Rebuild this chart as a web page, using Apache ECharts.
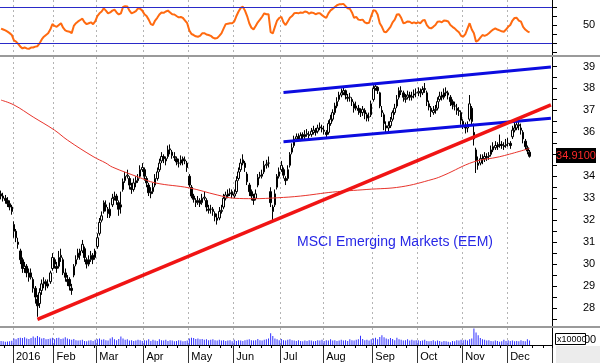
<!DOCTYPE html>
<html><head><meta charset="utf-8">
<script src="https://cdn.jsdelivr.net/npm/echarts@6/dist/echarts.min.js"></script>
<style>html,body{margin:0;padding:0;background:#fff}#c{width:600px;height:363px}</style>
</head><body><div id="c"></div>
<script>
// ---------- DATA ----------
const holidays = ['2015-12-25','2016-01-01','2016-01-18','2016-02-15','2016-03-25','2016-05-30','2016-07-04','2016-09-05','2016-11-24','2016-12-26'];
const monthLabels = ['2016','Feb','Mar','Apr','May','Jun','Jul','Aug','Sep','Oct','Nov','Dec'];
const firstDay = '2015-12-23', lastDay = '2016-12-30';

const priceOpen = [
33.2,33.1,33.0,32.9,32.75,32.6,31.8,31.5,31.0,30.6,
30.2,29.8,29.9,29.6,29.4,29.3,28.9,28.4,28.2,28.8,
29.1,29.2,29.0,29.2,29.8,30.2,29.9,29.9,30.3,30.2,
29.6,29.3,29.3,28.9,29.5,30.0,30.3,30.6,30.6,30.7,
30.2,30.0,30.2,30.4,30.3,30.8,31.4,32.0,32.4,32.7,
32.5,32.2,32.7,33.0,33.1,32.8,32.6,33.4,33.8,34.0,
33.9,33.5,33.4,33.7,33.8,34.0,34.3,34.3,33.9,33.6,
33.2,33.3,33.6,33.9,34.3,34.7,34.9,34.8,34.9,35.2,
35.1,34.9,34.8,34.6,34.6,34.8,34.7,34.6,34.0,33.5,
33.1,32.9,32.8,32.9,32.8,33.0,32.9,32.5,32.5,32.5,
32.3,32.1,32.1,32.4,32.6,33.0,33.1,33.2,33.3,33.1,
33.3,33.9,34.3,34.6,34.6,34.1,33.6,33.3,33.0,33.0,
33.6,34.0,34.0,34.2,34.5,34.6,33.3,32.6,32.7,33.5,
34.0,34.3,34.3,33.9,33.9,34.5,35.1,35.4,35.7,35.8,
35.7,35.9,35.8,35.9,35.9,35.9,36.0,36.1,36.05,36.2,
36.2,36.1,36.0,36.0,36.4,36.6,36.9,37.2,37.5,37.7,
37.8,37.9,37.6,37.6,37.5,37.3,37.1,37.1,37.0,36.9,
37.0,36.8,36.7,36.8,37.5,38.0,38.05,37.8,37.0,36.8,
36.3,36.2,36.3,36.6,36.9,37.2,37.6,37.9,37.8,37.5,
37.6,37.7,37.6,37.7,37.8,37.8,37.85,37.8,37.95,37.8,
37.3,37.1,36.9,37.0,37.1,37.5,37.7,37.6,37.8,37.8,
37.6,37.4,37.2,37.1,37.0,36.9,36.5,36.3,36.2,36.6,
37.1,36.0,35.2,34.6,34.6,34.8,34.8,34.9,34.9,35.0,
35.2,35.3,35.4,35.4,35.45,35.4,35.4,35.5,35.5,35.8,
36.1,36.2,36.35,36.2,36.0,35.6,35.3,35.1
];
const priceHigh = [
33.35,33.25,33.15,33.05,32.9,32.7,31.95,31.6,31.2,30.7,
30.3,30.1,30.0,29.8,29.8,29.4,29.0,28.6,28.9,29.3,
29.4,29.3,29.3,29.7,30.5,30.3,30.1,30.6,30.7,30.3,
29.8,29.5,29.4,29.1,30.0,30.4,30.7,30.7,31.1,30.8,
30.3,30.4,30.6,30.5,30.7,31.4,32.1,32.4,32.9,32.9,
32.6,32.8,33.2,33.3,33.2,32.9,33.3,33.9,34.2,34.3,
34.0,33.7,33.9,34.0,34.1,34.5,34.6,34.4,34.0,33.7,
33.5,33.7,34.1,34.4,34.8,35.1,35.0,34.9,35.4,35.45,
35.2,35.1,34.9,34.8,34.95,34.9,34.9,34.7,34.1,33.6,
33.2,33.0,33.1,33.0,33.2,33.3,33.0,32.7,32.7,32.6,
32.4,32.3,32.6,32.7,33.2,33.3,33.4,33.45,33.4,33.4,
34.0,34.4,34.8,35.0,34.7,34.2,33.7,33.4,33.2,33.4,
34.1,34.2,34.3,34.7,34.75,34.9,33.5,32.7,33.4,34.1,
34.4,34.7,34.4,34.0,34.5,35.1,35.5,35.85,35.95,35.95,
36.0,36.0,36.1,36.15,36.05,36.2,36.3,36.2,36.35,36.45,
36.35,36.3,36.1,36.55,36.8,37.05,37.35,37.6,37.85,38.0,
38.05,37.95,37.75,37.8,37.6,37.4,37.4,37.25,37.1,37.2,
37.1,36.9,36.9,37.45,38.15,38.25,38.1,37.85,37.2,36.9,
36.5,36.5,36.7,37.0,37.3,37.7,38.05,38.1,37.9,37.75,
37.9,37.85,37.85,37.95,38.0,38.05,38.0,38.1,38.25,37.9,
37.45,37.2,37.2,37.25,37.6,37.85,37.85,38.0,38.05,37.9,
37.7,37.5,37.4,37.3,37.15,37.0,36.6,36.45,36.5,37.7,
37.2,36.4,35.3,34.9,35.0,35.0,35.1,35.05,35.1,35.4,
35.55,35.6,35.55,35.9,35.6,35.55,35.7,35.75,35.6,36.3,
36.45,36.55,36.5,36.4,36.1,35.7,35.4,35.2
];
const priceLow = [
32.95,32.85,32.75,32.6,32.45,32.25,31.2,31.0,30.7,30.0,
29.6,29.6,29.4,29.2,29.3,28.7,28.2,27.6,28.0,28.6,
28.9,28.8,28.9,29.1,29.7,29.8,29.6,29.8,30.1,29.5,
29.2,29.0,28.8,28.6,29.4,29.9,30.2,30.2,30.5,30.1,
29.8,29.9,30.1,30.0,30.2,30.7,31.3,31.9,32.3,32.4,
32.1,32.1,32.6,32.9,32.7,32.2,32.3,33.3,33.7,33.9,
33.4,33.2,33.3,33.5,33.7,33.9,34.2,33.8,33.5,33.1,
33.0,33.2,33.5,33.8,34.2,34.6,34.6,34.5,34.8,35.0,
34.8,34.7,34.5,34.4,34.5,34.5,34.55,34.2,33.5,33.0,
32.8,32.6,32.7,32.6,32.7,32.9,32.4,32.3,32.3,32.2,
31.95,31.8,32.0,32.3,32.5,32.9,33.0,33.1,33.0,33.0,
33.2,33.8,34.2,34.5,34.2,33.6,33.1,32.9,32.7,32.9,
33.5,33.9,33.9,34.1,34.35,34.4,32.6,31.9,32.6,33.4,
33.9,34.2,33.9,33.6,33.8,34.4,35.0,35.3,35.6,35.6,
35.6,35.65,35.7,35.8,35.7,35.8,35.9,35.85,35.95,36.1,
36.0,35.9,35.7,35.9,36.3,36.5,36.8,37.1,37.4,37.6,
37.7,37.5,37.4,37.4,37.2,36.9,37.0,36.8,36.7,36.75,
36.6,36.5,36.5,36.7,37.4,37.9,37.75,37.1,36.7,36.1,
36.0,36.05,36.2,36.5,36.8,37.1,37.5,37.7,37.4,37.35,
37.5,37.45,37.45,37.55,37.6,37.65,37.6,37.7,37.8,37.2,
37.0,36.7,36.8,36.85,37.0,37.4,37.45,37.5,37.65,37.5,
37.2,37.05,37.0,36.8,36.75,36.35,36.15,35.95,36.0,36.5,
36.3,35.4,34.15,34.3,34.5,34.55,34.65,34.7,34.75,34.9,
35.1,35.2,35.2,35.3,35.25,35.2,35.3,35.35,35.25,35.7,
36.0,36.1,36.1,35.9,35.5,35.2,35.0,34.85
];
const priceClose = [
33.1,33.0,32.9,32.75,32.6,32.4,31.5,31.2,30.9,30.2,
29.8,29.9,29.6,29.4,29.6,28.9,28.5,28.1,28.7,29.1,
29.2,29.0,29.1,29.6,30.3,30.0,29.8,30.3,30.4,29.6,
29.4,29.2,29.0,28.8,29.9,30.2,30.5,30.4,30.9,30.3,
30.0,30.2,30.4,30.2,30.6,31.2,31.9,32.2,32.8,32.6,
32.3,32.5,33.0,33.05,32.9,32.5,32.7,33.75,34.0,34.05,
33.6,33.4,33.7,33.8,33.9,34.3,34.4,34.0,33.7,33.25,
33.3,33.5,33.9,34.2,34.6,34.9,34.8,34.7,35.2,35.25,
34.95,34.85,34.65,34.6,34.75,34.7,34.75,34.4,33.6,33.1,
32.95,32.8,32.9,32.75,33.0,33.05,32.6,32.45,32.5,32.4,
32.15,32.0,32.4,32.45,33.0,33.15,33.2,33.25,33.15,33.2,
33.8,34.2,34.6,34.75,34.4,33.75,33.3,33.1,32.9,33.2,
33.95,34.05,34.1,34.5,34.55,34.6,32.8,32.4,33.2,34.0,
34.2,34.5,34.05,33.8,34.3,35.0,35.3,35.7,35.8,35.75,
35.85,35.8,35.9,35.95,35.85,36.05,36.1,36.0,36.2,36.25,
36.15,36.05,35.9,36.4,36.6,36.9,37.2,37.4,37.7,37.8,
37.9,37.7,37.55,37.6,37.4,37.1,37.2,37.0,36.9,37.05,
36.85,36.65,36.7,37.3,38.0,38.1,37.9,37.2,36.9,36.4,
36.2,36.3,36.5,36.9,37.1,37.5,37.9,37.85,37.6,37.55,
37.7,37.6,37.65,37.75,37.8,37.85,37.8,37.95,38.0,37.4,
37.15,36.95,37.0,37.05,37.4,37.65,37.6,37.8,37.85,37.7,
37.4,37.25,37.2,37.0,36.95,36.55,36.35,36.2,36.3,37.3,
36.5,35.7,34.7,34.5,34.8,34.75,34.9,34.85,34.95,35.2,
35.35,35.4,35.35,35.45,35.4,35.35,35.45,35.5,35.4,36.1,
36.2,36.35,36.3,36.1,35.7,35.35,35.15,34.91
];
const rsi = [
46,45,44,42.6,41,39,33,31.5,29,26,
24,25,24,23.5,25,25,26,26.5,29.6,34,
37,39,40.8,45,51,49,48,50,52,47,
44,43,42.6,41,49,52,54,55.6,57,53,
51,52,53,51,54,60,63,65,68.5,66,
63,64,66,67,64,61.7,63,70,71,70.5,
66,63,64,65.5,68.5,68,66,62,60,56,
51,50,55,58,61.7,64,63.5,65,66,64,
62,61.7,60,58.5,59,57.8,55,52,44,40,
38.9,37.5,37,38,40.8,41,39.5,38.9,38,36,
35,35.5,38,40.8,46,51,51.5,52,52,54,
60,65,69,70.4,66,60,52,47,45.2,48.9,
53,56,59.2,63,62,62,42,40.8,48,55,
57.8,59.2,53,50,54,58,60,63,63.5,63,
64,63.5,65,64.5,62.6,64,63.5,62,63,63,
61,59.2,58,63,66.3,68,70,72,73,73,
73.5,71,68.5,68,64,58,59,56,55.6,56,
53,52,52.5,60,66.3,66,61.7,52,48,42.6,
42,45,48,53,56,61.7,62,58,52,52.5,
54,53.7,52,53,52,53,52,55,55.6,50,
47,46.3,48,50,53.7,54,53,55,54.8,54,
50,48,46.3,44,42,38,37,40,46,52,
45,40.8,31.5,33,36,38.9,38,39,40.8,43,
45,46.3,45,44,43,42.6,45,48,50,55,
57.8,58,55,53.7,48,45,43,41.9
];
const volume = [
5000,4500,4000,4200,4600,5200,
8000,7000,8500,9000,8800,9500,8000,7500,8500,10500,9000,11000,9500,8000,8500,7000,7500,8000,9000,
7000,8500,9000,7500,8000,9500,8000,7000,6500,7500,6000,5500,6000,6500,5000,4500,5500,6000,5000,6500,
7000,8000,6500,7000,6000,5500,8000,9500,7000,6000,7500,10500,8000,6500,7000,5500,6000,5000,5500,6500,6000,5000,
6000,5500,7000,5000,6500,5500,5000,7000,6000,5500,6500,5000,6000,5500,4500,5000,6000,5500,4500,5000,5500,
8000,9000,8500,7500,8000,7000,7500,6500,7000,6000,6500,7000,6000,5500,6500,5500,6000,5000,5500,6000,4500,
6500,5000,6000,5500,5000,6000,6500,7000,6000,5500,6000,7500,6000,5500,6500,7000,8000,14500,11000,8000,7000,6000,
7500,6000,5500,6500,7000,6000,5500,5000,6000,5000,4500,5500,5000,6000,5500,4500,5000,6000,5500,6500,
5000,6000,5500,7000,5500,6000,5000,5500,6500,5500,6000,5000,7000,6000,5500,6500,7000,11500,7500,6000,6500,5500,7000,
8000,9000,7000,10000,12000,9500,8000,7000,8500,7500,6000,9000,7000,6500,5500,6000,7000,5500,6500,5500,6000,
6000,5000,5500,6500,5000,4500,5000,6000,4500,5500,5000,4000,5000,4500,4000,3500,5000,4500,6000,5500,6500,
6000,6500,5500,7000,8000,20500,15500,12000,8500,7000,6500,5500,6000,5000,4500,5500,5000,4000,4500,6500,5000,
6000,5000,5500,4500,5000,4500,6000,5000,4500,7000,5500
];
// 200-day moving average read at points: [trading-day index, value]
const movingAvg = [[0,37.47],[6,37.25],[15,36.7],[25,36.1],[31,35.65],[43,34.9],[49,34.6],[52,34.42],[64,33.97],[72,33.7],[88,33.47],[101,33.15],[109,33.0],[118,32.98],[129,33.02],[140,33.1],[155,33.28],[171,33.4],[187,33.52],[202,33.87],[207,34.05],[221,34.66],[233,34.89],[247,35.27]];
const trendSupport = [[17,27.48],[257,37.25]];
const channelUpper = [[132,37.82],[257,38.98]];
const channelLower = [[132,35.57],[257,36.64]];
const priceTicks = [28,29,30,31,32,33,34,35,36,37,38,39];
const priceMinorTicks = [27.5,28,28.5,29,29.5,30,30.5,31,31.5,32,32.5,33,33.5,34,34.5,35,35.5,36,36.5,37,37.5,38,38.5,39];
const rsiLevels = [70,30];
const rsiTicks = [20,30,40,50,60,70];
const rsiLabels = [50];
const lastPrice = 34.91;
const chartTitle = 'MSCI Emerging Markets (EEM)';

// ---------- categories (trading days) ----------
const categories = [];
{
  let t = Date.parse(firstDay + 'T00:00:00Z');
  const end = Date.parse(lastDay + 'T00:00:00Z');
  while (t <= end) {
    const d = new Date(t);
    const s = d.toISOString().slice(0, 10);
    const w = d.getUTCDay();
    if (w !== 0 && w !== 6 && holidays.indexOf(s) < 0) categories.push(s);
    t += 86400000;
  }
}
const monthStart = (i) => i > 0 && categories[i].slice(5, 7) !== categories[i - 1].slice(5, 7);
const weekStart = (i) => i > 0 && new Date(categories[i] + 'T00:00:00Z').getUTCDay() < new Date(categories[i - 1] + 'T00:00:00Z').getUTCDay();

const FONT = 'Liberation Sans, Arial, sans-serif';
const gridL = -1, gridR = 48;
const gridLine = { show: true, interval: (i) => monthStart(i), lineStyle: { color: '#b4b4b4', width: 1, type: [2, 3] } };

const chart = echarts.init(document.getElementById('c'), null, { renderer: 'canvas' });
const option = {
  animation: false,
  backgroundColor: '#fff',
  grid: [
    { left: gridL, right: gridR, top: 0, height: 56 },
    { left: gridL, right: gridR, top: 57, height: 270 },
    { left: gridL, right: gridR, top: 328, height: 17 }
  ],
  xAxis: [
    { type: 'category', gridIndex: 0, data: categories, boundaryGap: true, axisLine: { show: false }, axisTick: { show: false }, axisLabel: { show: false }, splitLine: gridLine },
    { type: 'category', gridIndex: 1, data: categories, boundaryGap: true, axisLine: { show: false }, axisTick: { show: false }, axisLabel: { show: false }, splitLine: gridLine },
    { type: 'category', gridIndex: 2, data: categories, boundaryGap: true,
      axisLine: { show: true, lineStyle: { color: '#000', width: 1 } },
      axisTick: { show: true, interval: (i) => monthStart(i), length: 18, lineStyle: { color: '#333' } },
      axisLabel: { show: true, interval: (i) => monthStart(i), formatter: (v) => monthLabels[parseInt(v.slice(5, 7), 10) - 1], align: 'left', padding: [0, 0, 0, 2], margin: 6, fontSize: 11, color: '#000', fontFamily: FONT },
      splitLine: gridLine },
    { type: 'category', gridIndex: 2, data: categories, boundaryGap: true, position: 'bottom',
      axisLine: { show: false }, axisLabel: { show: false }, splitLine: { show: false },
      axisTick: { show: true, interval: (i) => weekStart(i), length: 3, lineStyle: { color: '#000' } } }
  ],
  yAxis: [
    { type: 'value', gridIndex: 0, position: 'right', min: 15.6, max: 77.8, splitLine: { show: false },
      axisLine: { show: true, lineStyle: { color: '#000' } },
      axisTick: { show: true, customValues: rsiTicks, length: 5, lineStyle: { color: '#000' } },
      axisLabel: { show: true, customValues: rsiLabels, margin: 31, fontSize: 11, color: '#000', fontFamily: FONT } },
    { type: 'value', gridIndex: 1, position: 'right', min: 27.135, max: 39.433, splitLine: { show: false },
      axisLine: { show: true, lineStyle: { color: '#000' } },
      axisTick: { show: true, customValues: priceMinorTicks, length: 5, lineStyle: { color: '#000' } },
      axisLabel: { show: true, customValues: priceTicks, margin: 31, fontSize: 11, color: '#000', fontFamily: FONT } },
    { type: 'value', gridIndex: 2, position: 'right', min: 0, max: 21000, splitLine: { show: false },
      axisLine: { show: true, lineStyle: { color: '#000' } }, axisTick: { show: false }, axisLabel: { show: false } }
  ],
  series: [
    { name: 'RSI', type: 'line', xAxisIndex: 0, yAxisIndex: 0, data: rsi, symbol: 'none', z: 3,
      lineStyle: { color: '#ff6a10', width: 2 },
      markLine: { silent: true, symbol: 'none', label: { show: false }, lineStyle: { color: '#2a2ac8', width: 1, type: 'solid' },
        data: rsiLevels.map(v => ({ yAxis: v })) } },
    { name: 'EEM', type: 'candlestick', xAxisIndex: 1, yAxisIndex: 1, barWidth: 2, z: 3,
      data: priceClose.map((c, i) => [priceOpen[i], c, priceLow[i], priceHigh[i]]),
      itemStyle: { color: '#fff', color0: '#000', borderColor: '#000', borderColor0: '#000', borderWidth: 1 } },
    { name: 'MA', type: 'line', xAxisIndex: 1, yAxisIndex: 1, data: movingAvg, smooth: 0.4, symbol: 'none', z: 4,
      lineStyle: { color: '#e8342c', width: 1 } },
    { name: 'Upper', type: 'line', xAxisIndex: 1, yAxisIndex: 1, data: channelUpper, symbol: 'none', z: 5,
      lineStyle: { color: '#0c0ce0', width: 3 } },
    { name: 'Lower', type: 'line', xAxisIndex: 1, yAxisIndex: 1, data: channelLower, symbol: 'none', z: 5,
      lineStyle: { color: '#0c0ce0', width: 3 } },
    { name: 'Support', type: 'line', xAxisIndex: 1, yAxisIndex: 1, data: trendSupport, symbol: 'none', z: 6,
      lineStyle: { color: '#f01414', width: 3.5 } },
    { name: 'Volume', type: 'bar', xAxisIndex: 2, yAxisIndex: 2, data: volume, barWidth: 1, z: 3,
      itemStyle: { color: '#3030ff' } }
  ],
  graphic: [
    { type: 'rect', id: 'sep1', shape: { x: 0, y: 55, width: 600, height: 2 }, style: { fill: '#9a9a9a' }, z: 50 },
    { type: 'rect', id: 'sep2', shape: { x: 0, y: 326, width: 600, height: 2 }, style: { fill: '#9a9a9a' }, z: 50 },
    { type: 'rect', id: 'corner', shape: { x: 556, y: 346, width: 44, height: 17 }, style: { fill: '#ececec' }, z: 40 },
    { type: 'text', id: 'title', left: 297, top: 235, style: { text: chartTitle, fill: '#2828e6', font: '14px ' + FONT }, z: 60 },
    { type: 'text', id: 'vol0', left: 584, top: 334, style: { text: '00', fill: '#000', font: '11px ' + FONT }, z: 60 },
    { type: 'rect', id: 'volbox', shape: { x: 555.5, y: 333.5, width: 30, height: 11 }, style: { fill: '#fff', stroke: '#000', lineWidth: 1 }, z: 61 },
    { type: 'text', id: 'voltxt', left: 557, top: 335, style: { text: 'x10000', fill: '#000', font: '9px ' + FONT }, z: 62 }
  ]
};
chart.setOption(option);
const yLast = chart.convertToPixel({ yAxisIndex: 1 }, lastPrice);
chart.setOption({
  graphic: [
    { type: 'rect', id: 'lastBox', shape: { x: 556, y: Math.round(yLast) - 8, width: 40, height: 15 }, style: { fill: '#000' }, z: 70 },
    { type: 'text', id: 'lastTxt', x: 576, y: Math.round(yLast), style: { text: lastPrice.toFixed(4), fill: '#ff2a2a', font: '11px ' + FONT, textAlign: 'center', textVerticalAlign: 'middle' }, z: 71 }
  ]
});
</script>
</body></html>
